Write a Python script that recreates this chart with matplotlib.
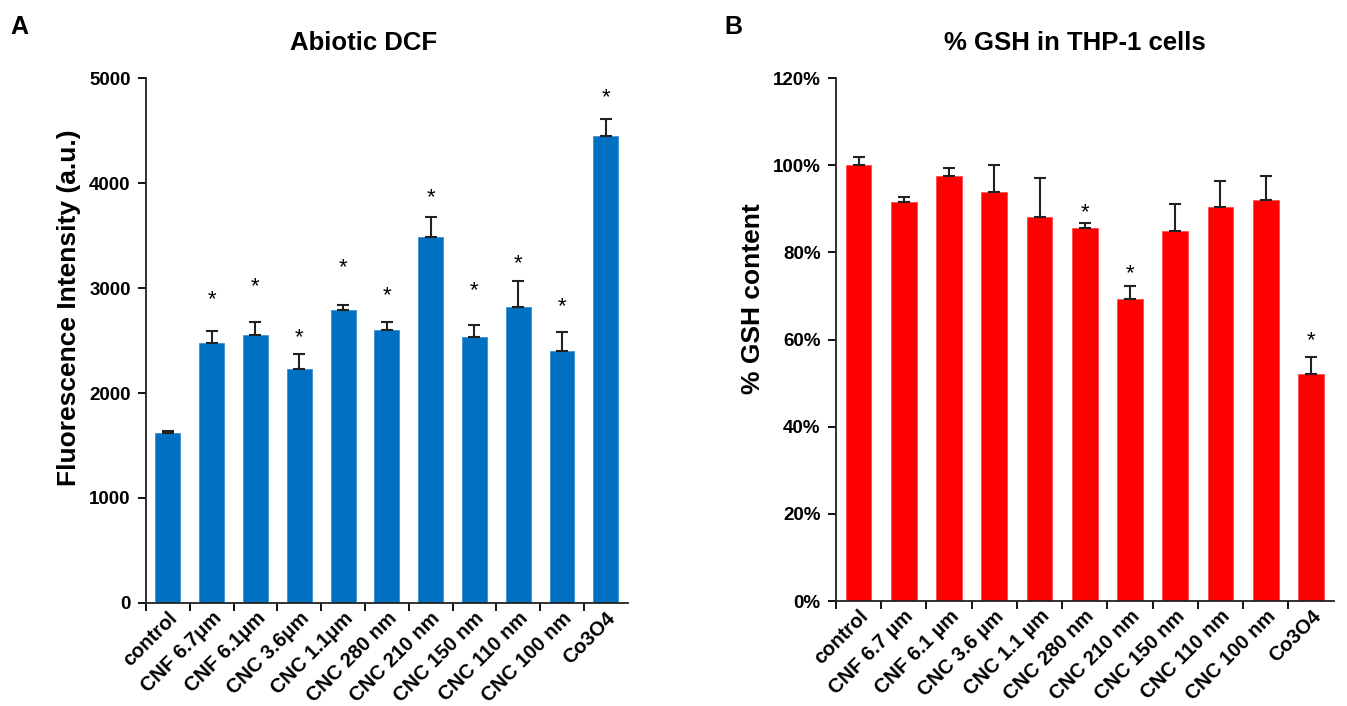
import matplotlib
matplotlib.use("Agg")
import matplotlib.pyplot as plt
from matplotlib.ticker import FuncFormatter
import numpy as np

plt.rcParams['font.family'] = ['Liberation Sans', 'DejaVu Sans']
plt.rcParams['font.weight'] = 'bold'

# ---- data ----
labels_a = ["control", "CNF 6.7\u03bcm", "CNF 6.1\u03bcm", "CNC 3.6\u03bcm", "CNC 1.1\u03bcm",
            "CNC 280 nm", "CNC 210 nm", "CNC 150 nm", "CNC 110 nm", "CNC 100 nm", "Co3O4"]
dcf_values = [1620, 2476, 2552, 2225, 2790, 2597, 3489, 2536, 2822, 2400, 4451]
dcf_err = [20, 117, 127, 146, 48, 82, 187, 108, 248, 184, 159]
dcf_sig = [False, True, True, True, True, True, True, True, True, True, True]
dcf_star_y = [None, 2886, 3010, 2524, 3190, 2924, 3857, 2974, 3229, 2822, 4812]

labels_b = ["control", "CNF 6.7 \u00b5m", "CNF 6.1 \u00b5m", "CNC 3.6 \u00b5m", "CNC 1.1 \u00b5m",
            "CNC 280 nm", "CNC 210 nm", "CNC 150 nm", "CNC 110 nm", "CNC 100 nm", "Co3O4"]
gsh_values = [1.000, 0.916, 0.976, 0.939, 0.881, 0.855, 0.694, 0.848, 0.905, 0.920, 0.520]
gsh_err = [0.018, 0.010, 0.017, 0.061, 0.089, 0.013, 0.028, 0.062, 0.059, 0.055, 0.041]
gsh_sig = [False, False, False, False, False, True, True, False, False, False, True]
gsh_star_y = [None, None, None, None, None, 0.892, 0.752, None, None, None, 0.597]

YTICK_FS = 13.5
XTICK_FS = 14.5
fig = plt.figure(figsize=(13.47, 7.06), dpi=100)
axA = fig.add_axes([0.1084, 0.1459, 0.3576, 0.7436])
axB = fig.add_axes([0.6206, 0.1487, 0.3694, 0.7408])


def style(ax, n):
    for s in ['top', 'right']:
        ax.spines[s].set_visible(False)
    for s in ['left', 'bottom']:
        ax.spines[s].set_linewidth(1.3)
        ax.spines[s].set_color('#222222')
    ax.set_xlim(-0.5, n - 0.5)
    ax.set_xticks(np.arange(n) - 0.5, minor=False)
    ax.tick_params(axis='x', which='major', length=6, width=1.3, labelbottom=False, direction='out')
    ax.set_xticks(np.arange(n), minor=True)
    ax.tick_params(axis='x', which='minor', length=0, labelsize=XTICK_FS, pad=4)
    ax.tick_params(axis='y', length=6, width=1.3, labelsize=YTICK_FS, direction='out', pad=5)


n = len(labels_a)
x = np.arange(n)
axA.bar(x, dcf_values, width=0.57, color='#0070C0', edgecolor='#3a8fd6', linewidth=0.6, zorder=2)
axA.errorbar(x, dcf_values, yerr=[np.zeros(n), dcf_err], fmt='none', ecolor='#222222',
             elinewidth=1.5, capsize=4, capthick=1.5, zorder=3)
for i in range(n):
    if dcf_sig[i]:
        axA.text(x[i], dcf_star_y[i], '*', ha='center', va='center', fontsize=16, fontweight='normal')
style(axA, n)
axA.set_ylim(0, 5000)
axA.set_yticks([0, 1000, 2000, 3000, 4000, 5000])
axA.set_xticklabels(labels_a, minor=True, rotation=45, ha='right', rotation_mode='anchor', fontweight='bold')
for lab in axA.get_yticklabels():
    lab.set_fontweight('bold')
axA.set_ylabel('Fluorescence Intensity (a.u.)', fontsize=19, fontweight='bold', labelpad=8)
axA.yaxis.set_label_coords(-0.136, 0.562)

n = len(labels_b)
x = np.arange(n)
axB.bar(x, gsh_values, width=0.57, color='#FF0000', edgecolor='#ff4a4a', linewidth=0.6, zorder=2)
axB.errorbar(x, gsh_values, yerr=[np.zeros(n), gsh_err], fmt='none', ecolor='#222222',
             elinewidth=1.5, capsize=4, capthick=1.5, zorder=3)
for i in range(n):
    if gsh_sig[i]:
        axB.text(x[i], gsh_star_y[i], '*', ha='center', va='center', fontsize=16, fontweight='normal')
style(axB, n)
axB.set_ylim(0, 1.2)
axB.set_yticks([0, 0.2, 0.4, 0.6, 0.8, 1.0, 1.2])
axB.yaxis.set_major_formatter(FuncFormatter(lambda v, p: f"{v*100:.0f}%"))
axB.set_xticklabels(labels_b, minor=True, rotation=45, ha='right', rotation_mode='anchor', fontweight='bold')
for lab in axB.get_yticklabels():
    lab.set_fontweight('bold')
axB.set_ylabel('% GSH content', fontsize=19, fontweight='bold', labelpad=8)
axB.yaxis.set_label_coords(-0.143, 0.579)

for ax in (axA, axB):
    for lab in ax.get_xticklabels(minor=True):
        lab.set_fontsize(XTICK_FS)

fig.text(0.270, 0.939, 'Abiotic DCF', ha='center', va='center', fontsize=18.5, fontweight='bold')
fig.text(0.798, 0.939, '% GSH in THP-1 cells', ha='center', va='center', fontsize=18.5, fontweight='bold')
fig.text(0.0145, 0.962, 'A', ha='center', va='center', fontsize=18, fontweight='bold')
fig.text(0.5445, 0.962, 'B', ha='center', va='center', fontsize=18, fontweight='bold')

fig.savefig('out.png', dpi=100)
